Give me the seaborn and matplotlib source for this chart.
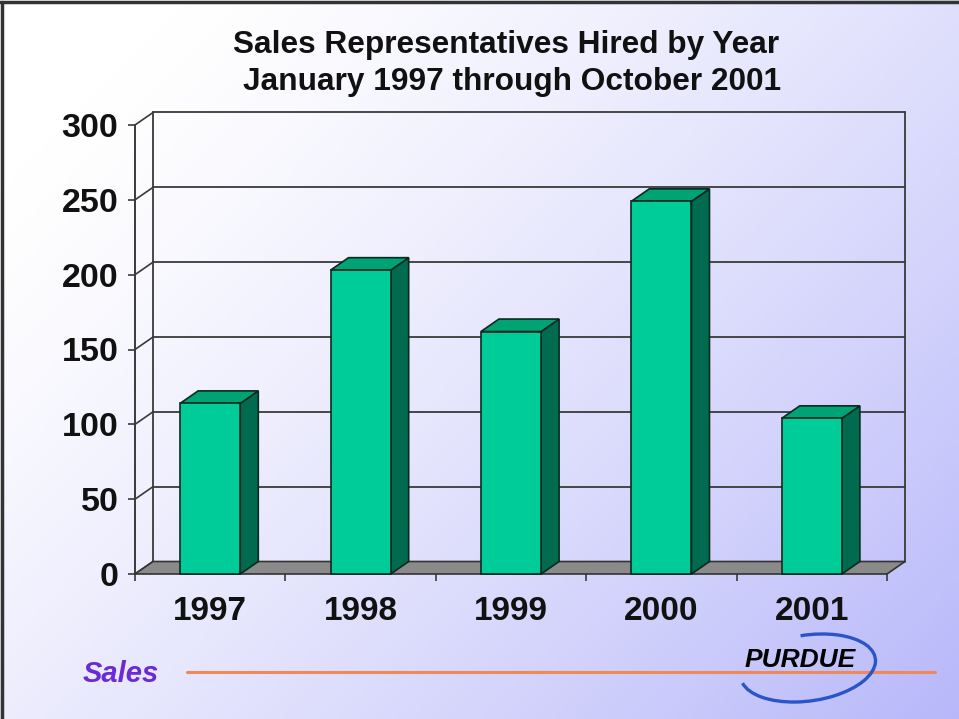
import numpy as np
import matplotlib
matplotlib.use("Agg")
import matplotlib.pyplot as plt
import seaborn as sns
import pandas as pd
from matplotlib.patches import Polygon, Arc

# Chart data
years = ["1997", "1998", "1999", "2000", "2001"]
hires = [114, 203, 162, 249, 104]
y_ticks = [0, 50, 100, 150, 200, 250, 300]
y_tick_labels = ["0", "50", "100", "150", "200", "250", "300"]
title_lines = ["Sales Representatives Hired by Year",
               "January 1997 through October 2001"]
footer_label = "Sales"
logo_text = "PURDUE"

W, H = 959, 719
sns.set_theme(style="white")
plt.rcParams["font.family"] = ["Liberation Sans", "DejaVu Sans"]

fig = plt.figure(figsize=(W / 100, H / 100), dpi=100)

# Slide background: white fading to lavender toward the lower right
bg = fig.add_axes([0, 0, 1, 1])
u = np.linspace(0, 1, W)[None, :]
v = np.linspace(0, 1, H)[:, None]
t = np.clip(0.62 * u + 0.45 * v - 0.12, 0, 1) ** 1.3
c0 = np.array([1.0, 1.0, 1.0])
c1 = np.array([0.70, 0.70, 0.98])
img = c0 + (c1 - c0) * t[..., None]
bg.imshow(img, extent=[0, W, 0, H], aspect="auto", origin="upper", zorder=0)
bg.set_xlim(0, W)
bg.set_ylim(0, H)
bg.axis("off")

# Slide frame (top and left edges)
bg.plot([1.5, 1.5], [0, H - 1.5], color="#333333", lw=2.5, zorder=3)
bg.plot([0, W], [H - 1.5, H - 1.5], color="#333333", lw=2.5, zorder=3)

# Plot region in pixels (front plane)
x0, x1 = 135, 887
yb, yt = 574, 125
ax = fig.add_axes([x0 / W, 1 - yb / H, (x1 - x0) / W, (yb - yt) / H])
ax.set_facecolor("none")

df = pd.DataFrame({"year": years, "hires": hires})
edge = "#0b2a1f"
sns.barplot(data=df, x="year", y="hires", color="#00cc99", saturation=1,
            width=0.4, edgecolor=edge, linewidth=1.2, ax=ax, zorder=6)
ax.set_xlim(-0.5, 4.5)
ax.set_ylim(0, 300)

# Depth offset of the 3-D look, converted to data units
px_x = (x1 - x0) / 5.0
px_y = (yb - yt) / 300.0
dxu = 18 / px_x
dyu = 12.5 / px_y

grid_c = "#3a3a3a"
# Back wall gridlines and the slanted connectors from the front axis
for val in y_ticks:
    if val > 0:
        ax.plot([-0.5 + dxu, 4.5 + dxu], [val + dyu] * 2, color=grid_c,
                lw=1.3, clip_on=False, zorder=1)
    ax.plot([-0.5, -0.5 + dxu], [val, val + dyu], color=grid_c, lw=1.2,
            clip_on=False, zorder=1)
for xv in (-0.5 + dxu, 4.5 + dxu):
    ax.plot([xv, xv], [dyu, 300 + dyu], color=grid_c, lw=1.3,
            clip_on=False, zorder=1)
ax.plot([-0.5, -0.5], [0, 300], color=grid_c, lw=1.4, clip_on=False, zorder=1)

# Floor
floor = Polygon([(-0.5, 0), (4.5, 0), (4.5 + dxu, dyu), (-0.5 + dxu, dyu)],
                closed=True, fc="#8a8a8a", ec="#333333", lw=1.2,
                clip_on=False, zorder=2)
ax.add_patch(floor)

# Side and top faces for each bar
bars = list(ax.patches)
for p in bars:
    if p is floor:
        continue
    xl, w, h = p.get_x(), p.get_width(), p.get_height()
    side = Polygon([(xl + w, 0), (xl + w + dxu, dyu), (xl + w + dxu, h + dyu),
                    (xl + w, h)], closed=True, fc="#006b4f", ec=edge, lw=1.2,
                   clip_on=False, zorder=5)
    top = Polygon([(xl, h), (xl + w, h), (xl + w + dxu, h + dyu),
                   (xl + dxu, h + dyu)], closed=True, fc="#00a374", ec=edge,
                  lw=1.2, clip_on=False, zorder=5)
    ax.add_patch(side)
    ax.add_patch(top)
    p.set_clip_on(False)

for s in ax.spines.values():
    s.set_visible(False)

ax.set_yticks(y_ticks)
ax.set_yticklabels(y_tick_labels, fontsize=24.5, fontweight="bold", color="#111111")
ax.tick_params(axis="y", left=True, length=5, width=1.2, color=grid_c, pad=7)
ax.set_xticks(range(len(years)))
ax.set_xticklabels(years, fontsize=24, fontweight="bold", color="#111111")
ax.set_xticks([i - 0.5 for i in range(len(years) + 1)], minor=True)
ax.tick_params(axis="x", which="major", bottom=True, length=0, pad=16)
ax.tick_params(axis="x", which="minor", bottom=True, length=5, width=1.2,
               color=grid_c)
ax.set_xlabel("")
ax.set_ylabel("")

# Title
fig.text(506 / W, 1 - 53 / H, title_lines[0], ha="center", va="baseline",
         fontsize=22.8, fontweight="bold", color="#111111")
fig.text(512 / W, 1 - 90 / H, title_lines[1], ha="center", va="baseline",
         fontsize=22.8, fontweight="bold", color="#111111")

# Footer
bg.text(83, H - 674, footer_label, fontsize=21, fontweight="bold",
        fontstyle="italic", color="#6a2bd6", ha="left", va="center", zorder=3)
bg.plot([187, 935], [H - 672, H - 672], color="#ee8a55", lw=2.2, zorder=2)
bg.add_patch(Arc((808, H - 668), 136, 66, angle=8, theta1=185, theta2=455,
                 color="#2a55c8", lw=2.4, zorder=3))
bg.text(800, H - 660, logo_text, fontsize=19, fontweight="heavy",
        fontstyle="italic", color="black", ha="center", va="center", zorder=4)

fig.savefig("out.png", dpi=100)
